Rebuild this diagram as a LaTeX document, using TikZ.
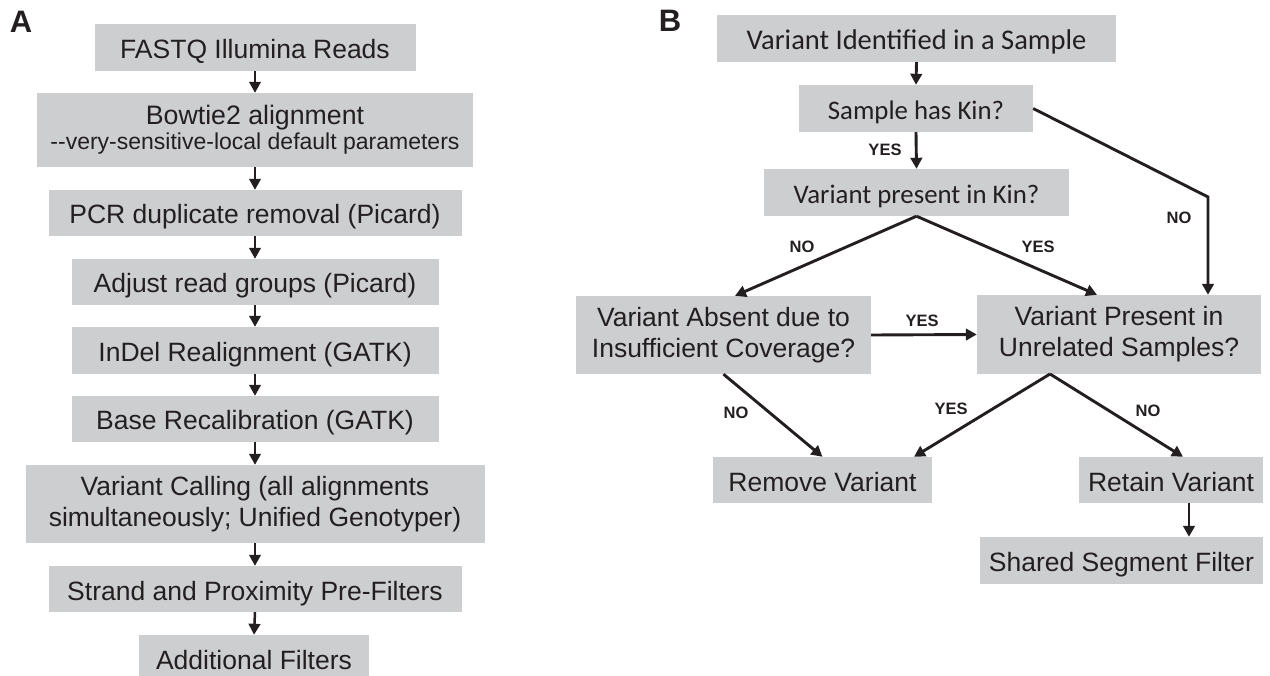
\documentclass[tikz,border=0pt]{standalone}
\usepackage{fontspec}
\setmainfont{Liberation Sans}
\newfontfamily\calib{Carlito}
\usetikzlibrary{arrows.meta}
\definecolor{boxgray}{RGB}{205,206,208}
\definecolor{ink}{RGB}{35,31,32}
\begin{document}
\begin{tikzpicture}[x=1pt,y=-1pt,
  box/.style={fill=boxgray, draw=none, inner sep=0pt, text=ink, align=center, font=\fontsize{26.5}{31}\selectfont},
  one/.style={text height=22pt, text depth=0pt},
  cal/.style={font=\calib\fontsize{26.8}{31}\selectfont, text height=21.3pt, text depth=0pt},
  lbl/.style={text=ink, inner sep=0pt, font=\fontsize{16.5}{18}\selectfont\bfseries},
  arr/.style={draw=ink, line width=2.5pt, -{Triangle[length=11pt,width=11.5pt]}},
  arrb/.style={arr, line width=2.9pt},
  panel/.style={text=ink, inner sep=0pt, font=\fontsize{31}{33}\selectfont\bfseries}]
\useasboundingbox (0,0) rectangle (1270,676);

% Panel labels
\node[panel] (pA) at (21,22) {A};
\node[panel] (pB) at (670,21) {B};

% Panel A
\node[box,one,minimum width=321pt,minimum height=47pt] (a1) at (255,47.5) {FASTQ Illumina Reads};
\node[box,minimum width=436pt,minimum height=74pt,font=\fontsize{26.7}{30}\selectfont] (a2) at (255,130)
  {Bowtie2 alignment\\[-5pt]{\fontsize{23}{25}\selectfont -{}-very-sensitive-local default parameters}};
\node[box,one,minimum width=413pt,minimum height=46pt] (a3) at (255,213) {PCR duplicate removal (Picard)};
\node[box,one,minimum width=367pt,minimum height=46pt] (a4) at (255,282) {Adjust read groups (Picard)};
\node[box,one,minimum width=367pt,minimum height=47pt] (a5) at (255,350.5) {InDel Realignment (GATK)};
\node[box,one,minimum width=367pt,minimum height=46pt] (a6) at (255,419) {Base Recalibration (GATK)};
\node[box,minimum width=459pt,minimum height=78pt] (a7) at (255,504)
  {Variant Calling (all alignments\\simultaneously; Unified Genotyper)};
\node[box,one,minimum width=413pt,minimum height=46pt] (a8) at (255,589) {Strand and Proximity Pre-Filters};
\node[box,one,minimum width=230pt,minimum height=46pt] (a9) at (254,658) {Additional Filters};

\foreach \p/\q in {a1/a2,a2/a3,a3/a4,a4/a5,a5/a6,a6/a7,a7/a8,a8/a9}
  \draw[arr] (\p.south) -- (\q.north);

% Panel B
\node[box,minimum width=399pt,minimum height=47pt,font=\calib\fontsize{28.5}{32}\selectfont,text height=23pt,text depth=0pt] (r1) at (916.5,38.5) {Variant Identified in a Sample};
\node[box,cal,minimum width=234pt,minimum height=47pt] (r2) at (916,108.5) {Sample has Kin?};
\node[box,cal,minimum width=305pt,minimum height=47pt] (r3) at (916.5,192.5) {Variant present in Kin?};
\node[box,minimum width=295pt,minimum height=78pt] (r4) at (723.5,335) {Variant Absent due to\\Insufficient Coverage?};
\node[box,minimum width=284pt,minimum height=79pt] (r5) at (1119,334.5) {Variant Present in\\Unrelated Samples?};
\node[box,one,minimum width=219pt,minimum height=46pt] (rm) at (822.5,480) {Remove Variant};
\node[box,one,minimum width=184pt,minimum height=46pt] (rt) at (1171,480) {Retain Variant};
\node[box,one,minimum width=283pt,minimum height=47pt] (sh) at (1121.5,560.5) {Shared Segment Filter};

\coordinate (nc) at (1208,197);
\coordinate (r5b) at (1050,374);
\coordinate (rtb) at (1189,503);

\draw[arrb] (r1.south) -- (r2.north);
\draw[arrb] (r2.south) -- (r3.north);
\draw[arrb] (r2.east) -- (nc) -- (nc |- r5.north);
\draw[arrb] (r3.south) -- ([xshift=11.5pt]r4.north);
\draw[arrb] (r3.south) -- ([xshift=-22pt]r5.north);
\draw[arrb] (r4.east) -- (r5.west);
\draw[arrb] (r4.south) -- (rm.north);
\draw[arrb] (r5b) -- ([xshift=91.5pt]rm.north);
\draw[arrb] (r5b) -- ([xshift=12pt]rt.north);
\draw[arrb] (rtb) -- (rtb |- sh.north);

% Connector labels
\node[lbl] (l1) at (885,150) {YES};
\node[lbl] (l2) at (1179,218) {NO};
\node[lbl] (l3) at (802,247) {NO};
\node[lbl] (l4) at (1038,247) {YES};
\node[lbl] (l5) at (922,321) {YES};
\node[lbl] (l6) at (736,413) {NO};
\node[lbl] (l7) at (951,409) {YES};
\node[lbl] (l8) at (1148,411) {NO};
\end{tikzpicture}
\end{document}
